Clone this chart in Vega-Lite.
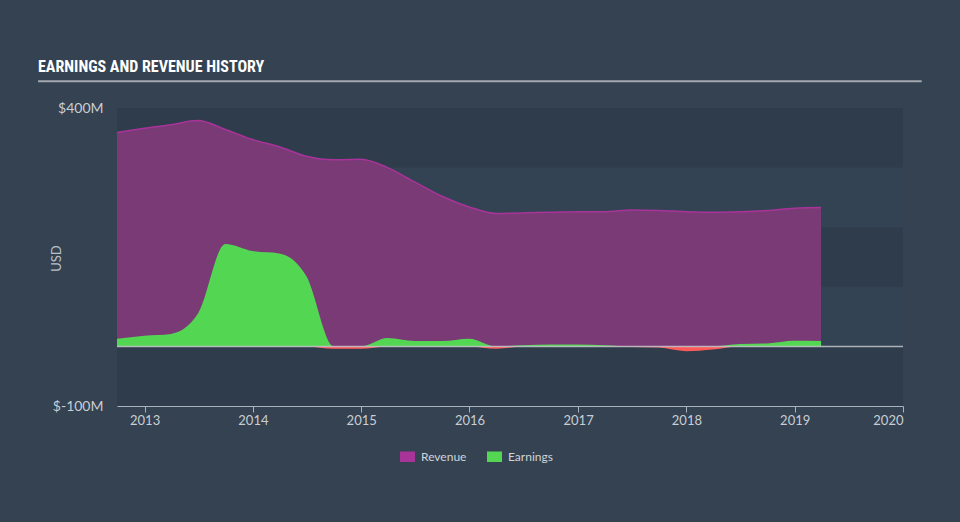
{
  "$schema": "https://vega.github.io/schema/vega-lite/v6.json",
  "width": 786,
  "height": 298,
  "autosize": "none",
  "padding": {"left": 117, "top": 108, "right": 57, "bottom": 116},
  "background": "#344252",
  "title": {
    "text": "EARNINGS AND REVENUE HISTORY",
    "anchor": "start",
    "frame": "group",
    "dx": -79,
    "offset": 5,
    "font": "'Roboto Condensed', 'Liberation Sans Narrow', Roboto, sans-serif",
    "fontWeight": "bold",
    "fontSize": 16,
    "color": "#ffffff"
  },
  "config": {
    "view": {"stroke": null, "fill": "#334353"},
    "font": "Lato"
  },
  "datasets": {
    "history": [
      {"date": "2012-09-30", "revenue": 359, "earnings": 13, "earnPos": 13, "earnNeg": 0},
      {"date": "2012-12-31", "revenue": 366, "earnings": 18, "earnPos": 18, "earnNeg": 0},
      {"date": "2013-03-31", "revenue": 372, "earnings": 21, "earnPos": 21, "earnNeg": 0},
      {"date": "2013-06-30", "revenue": 379, "earnings": 55, "earnPos": 55, "earnNeg": 0},
      {"date": "2013-09-30", "revenue": 364, "earnings": 172, "earnPos": 172, "earnNeg": 0},
      {"date": "2013-12-31", "revenue": 347, "earnings": 160, "earnPos": 160, "earnNeg": 0},
      {"date": "2014-03-31", "revenue": 335, "earnings": 156, "earnPos": 156, "earnNeg": 0},
      {"date": "2014-06-30", "revenue": 319, "earnings": 118, "earnPos": 118, "earnNeg": 0},
      {"date": "2014-09-30", "revenue": 313, "earnings": -4, "earnPos": 0, "earnNeg": -4},
      {"date": "2014-12-31", "revenue": 314, "earnings": -4, "earnPos": 0, "earnNeg": -4},
      {"date": "2015-03-31", "revenue": 300, "earnings": 14, "earnPos": 14, "earnNeg": 0},
      {"date": "2015-06-30", "revenue": 276, "earnings": 9, "earnPos": 9, "earnNeg": 0},
      {"date": "2015-09-30", "revenue": 252, "earnings": 9, "earnPos": 9, "earnNeg": 0},
      {"date": "2015-12-31", "revenue": 234, "earnings": 13, "earnPos": 13, "earnNeg": 0},
      {"date": "2016-03-31", "revenue": 223, "earnings": -4, "earnPos": 0, "earnNeg": -4},
      {"date": "2016-06-30", "revenue": 224, "earnings": 2, "earnPos": 2, "earnNeg": 0},
      {"date": "2016-09-30", "revenue": 225, "earnings": 3, "earnPos": 3, "earnNeg": 0},
      {"date": "2016-12-31", "revenue": 226, "earnings": 3, "earnPos": 3, "earnNeg": 0},
      {"date": "2017-03-31", "revenue": 226, "earnings": 2, "earnPos": 2, "earnNeg": 0},
      {"date": "2017-06-30", "revenue": 229, "earnings": -1, "earnPos": 0, "earnNeg": -1},
      {"date": "2017-09-30", "revenue": 228, "earnings": -2, "earnPos": 0, "earnNeg": -2},
      {"date": "2017-12-31", "revenue": 226, "earnings": -8, "earnPos": 0, "earnNeg": -8},
      {"date": "2018-03-31", "revenue": 225, "earnings": -5, "earnPos": 0, "earnNeg": -5},
      {"date": "2018-06-30", "revenue": 226, "earnings": 4, "earnPos": 4, "earnNeg": 0},
      {"date": "2018-09-30", "revenue": 228, "earnings": 5, "earnPos": 5, "earnNeg": 0},
      {"date": "2018-12-31", "revenue": 232, "earnings": 9.5, "earnPos": 9.5, "earnNeg": 0},
      {"date": "2019-03-31", "revenue": 233, "earnings": 9, "earnPos": 9, "earnNeg": 0}
    ],
    "bands": [
      {"lo": 300, "hi": 400},
      {"lo": 100, "hi": 200},
      {"lo": -100, "hi": 0}
    ],
    "zero": [{"v": 0}],
    "underline": [{"start": "2012-01-08", "end": "2020-03-04", "v": 445}]
  },
  "layer": [
    {
      "data": {"name": "bands"},
      "mark": {"type": "rect", "color": "#2f3c4b"},
      "encoding": {
        "y": {"field": "lo", "type": "quantitative", "scale": {"domain": [-100, 400], "nice": false, "zero": false},
          "axis": {
            "values": [-100, 400],
            "labelExpr": "'$' + datum.value + 'M'",
            "ticks": false, "domain": false, "grid": false,
            "labelPadding": 14, "labelFontSize": 14, "labelColor": "#c9ced3",
            "title": "USD", "titleColor": "#b9c0c7", "titleFontSize": 13, "titleFontWeight": "normal",
            "titleX": -54, "titleY": 150
          }
        },
        "y2": {"field": "hi"}
      }
    },
    {
      "data": {"name": "history"},
      "mark": {"type": "area", "interpolate": "monotone", "color": "#354442"},
      "encoding": {
        "x": {"field": "date", "type": "temporal"},
        "y": {"field": "revenue", "type": "quantitative"},
        "y2": {"datum": 0}
      }
    },
    {
      "data": {"name": "history"},
      "mark": {"type": "area", "interpolate": "monotone", "fillOpacity": 0.6, "line": {"strokeWidth": 1.5}},
      "encoding": {
        "x": {"field": "date", "type": "temporal",
          "scale": {"domain": [{"year": 2012, "month": 9, "date": 30}, {"year": 2020, "month": 1, "date": 1}]},
          "axis": {
            "format": "%Y", "tickCount": {"interval": "year", "step": 1},
            "labelFlush": true, "labelOverlap": false, "grid": false, "title": null,
            "domainColor": "#a9b3bd", "tickColor": "#a9b3bd", "tickSize": 6,
            "labelPadding": 2, "labelFontSize": 13, "labelColor": "#c9ced3"
          }
        },
        "y": {"field": "revenue", "type": "quantitative"},
        "y2": {"datum": 0},
        "color": {"datum": "Revenue", "type": "nominal",
          "scale": {"domain": ["Revenue", "Earnings"], "range": ["#a8349a", "#53d652"]},
          "legend": {
            "orient": "none", "legendX": 283, "legendY": 341, "direction": "horizontal",
            "title": null, "symbolType": "M-1,-0.7L1,-0.7L1,0.7L-1,0.7Z", "symbolSize": 225,
            "symbolOpacity": 1, "symbolStrokeWidth": 0,
            "labelColor": "#d0d4d8", "labelFontSize": 12, "labelOffset": 6, "columnPadding": 20
          }
        }
      }
    },
    {
      "data": {"name": "history"},
      "mark": {"type": "area", "interpolate": "monotone"},
      "encoding": {
        "x": {"field": "date", "type": "temporal"},
        "y": {"field": "earnPos", "type": "quantitative"},
        "y2": {"datum": 0},
        "color": {"datum": "Earnings", "type": "nominal"}
      }
    },
    {
      "data": {"name": "history"},
      "mark": {"type": "area", "interpolate": "monotone", "color": "#ff5a5a"},
      "encoding": {
        "x": {"field": "date", "type": "temporal"},
        "y": {"field": "earnNeg", "type": "quantitative"},
        "y2": {"datum": 0}
      }
    },
    {
      "data": {"name": "zero"},
      "mark": {"type": "rule", "color": "#c3c7cc", "strokeWidth": 1.5, "opacity": 0.85},
      "encoding": {
        "y": {"field": "v", "type": "quantitative"}
      }
    },
    {
      "data": {"name": "underline"},
      "mark": {"type": "rule", "color": "#a3a9b0", "strokeWidth": 2, "clip": false},
      "encoding": {
        "x": {"field": "start", "type": "temporal"},
        "x2": {"field": "end"},
        "y": {"field": "v", "type": "quantitative"}
      }
    }
  ]
}
